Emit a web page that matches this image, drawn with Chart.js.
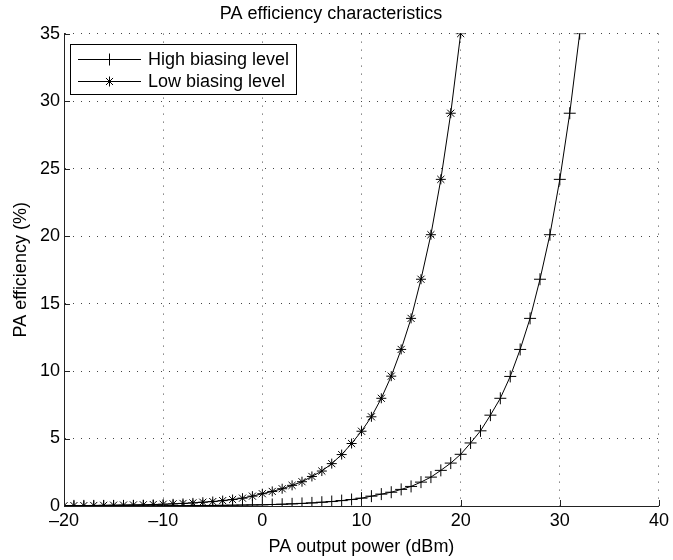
<!DOCTYPE html>
<html>
<head>
<meta charset="utf-8">
<script src="https://cdn.jsdelivr.net/npm/chart.js@4/dist/chart.umd.min.js"></script>
<style>
  html, body { margin: 0; padding: 0; background: #fff; }
  #wrap { width: 673px; height: 560px; }
</style>
</head>
<body>
<div id="wrap"><canvas id="myChart" width="673" height="560"></canvas></div>
<script>
const d = document;
const ctx = d.getElementById('myChart').getContext('2d');

// output power (dBm) per point
const powerLow = [-20,-19,-18,-17,-16,-15,-14,-13,-12,-11,-10,-9,-8,-7,-6,-5,-4,-3,-2,-1,0,
  1,2,3,4,5,6,7,8,9,10,11,12,13,14,15,16,17,18,19,20];
const powerHigh = [-20,-19,-18,-17,-16,-15,-14,-13,-12,-11,-10,-9,-8,-7,-6,-5,-4,-3,-2,-1,0,
  1,2,3,4,5,6,7,8,9,10,11,12,13,14,15,16,17,18,19,20,21,22,23,24,25,26,27,28,29,30,31,32];

// efficiency (%)
const effLow = [0.02,0.03,0.03,0.04,0.05,0.06,0.07,0.08,0.09,0.11,0.13,0.16,0.19,0.23,0.28,0.33,0.40,0.48,0.58,0.73,0.91,
  1.08,1.28,1.53,1.80,2.19,2.59,3.14,3.81,4.63,5.54,6.61,7.98,9.62,11.6,13.9,16.8,20.1,24.2,29.1,35];
const effHigh = [0.01,0.01,0.01,0.01,0.01,0.01,0.01,0.01,0.01,0.01,0.02,0.02,0.02,0.03,0.03,0.04,0.05,0.06,0.07,0.08,0.09,
  0.11,0.13,0.16,0.19,0.23,0.28,0.33,0.40,0.48,0.58,0.73,0.88,1.02,1.23,1.45,1.77,2.14,2.64,3.18,3.83,
  4.67,5.57,6.73,7.98,9.6,11.6,13.9,16.8,20.1,24.2,29.1,35];

const seriesNames = ['High biasing level', 'Low biasing level'];
const xTicks = [-20, -10, 0, 10, 20, 30, 40];
const yTicks = [0, 5, 10, 15, 20, 25, 30, 35];

const FONT = '"Liberation Sans", Arial, Helvetica, sans-serif';
Chart.defaults.font.family = FONT;
Chart.defaults.font.size = 18;
Chart.defaults.color = '#000';

const toPoints = (xs, ys) => xs.map((x, i) => ({ x: x, y: ys[i] }));

// matlab-like inward ticks + boxed legend
const matlabBits = {
  id: 'matlabBits',
  afterDraw(chart) {
    const c = chart.ctx;
    const xs = chart.scales.x, ys = chart.scales.y;
    const area = chart.chartArea;
    c.save();
    c.strokeStyle = '#222';
    c.lineWidth = 1;
    c.beginPath();
    xTicks.forEach(v => {
      const px = Math.round(xs.getPixelForValue(v)) + 0.5;
      c.moveTo(px, area.bottom); c.lineTo(px, area.bottom - 6);
    });
    yTicks.forEach(v => {
      const py = Math.round(ys.getPixelForValue(v)) + 0.5;
      c.moveTo(area.left, py); c.lineTo(area.left + 6, py);
    });
    c.stroke();

    // legend
    const box = { l: 70.5, t: 44.5, r: 296.5, b: 94.5 };
    c.fillStyle = '#fff';
    c.fillRect(box.l, box.t, box.r - box.l, box.b - box.t);
    c.strokeStyle = '#000';
    c.strokeRect(box.l, box.t, box.r - box.l, box.b - box.t);
    const rows = [59, 81];
    chart.data.datasets.forEach((ds, i) => {
      const y = rows[i] + 0.5;
      c.strokeStyle = '#000';
      c.lineWidth = 1;
      c.beginPath();
      c.moveTo(78, y); c.lineTo(141, y);
      c.stroke();
      Chart.helpers.drawPoint(c, {
        pointStyle: ds.pointStyle, radius: ds.pointRadius, rotation: 0, borderWidth: 1
      }, 109.5, y);
      c.fillStyle = '#000';
      c.font = '18px ' + FONT;
      c.textBaseline = 'middle';
      c.textAlign = 'left';
      c.fillText(ds.label, 148, rows[i] + 1);
    });
    c.restore();
  }
};

const myChart = new Chart(ctx, {
  type: 'line',
  data: {
    datasets: [{
      label: seriesNames[0],
      data: toPoints(powerHigh, effHigh),
      borderColor: '#000',
      backgroundColor: '#000',
      borderWidth: 1,
      pointStyle: 'cross',
      pointRadius: 6,
      pointBorderWidth: 1,
      pointBorderColor: '#000',
      tension: 0
    }, {
      label: seriesNames[1],
      data: toPoints(powerLow, effLow),
      borderColor: '#000',
      backgroundColor: '#000',
      borderWidth: 1,
      pointStyle: 'star',
      pointRadius: 5,
      pointBorderWidth: 1,
      pointBorderColor: '#000',
      tension: 0
    }]
  },
  options: {
    responsive: false,
    animation: false,
    layout: { padding: { left: 0, right: 11, top: 0, bottom: 0 } },
    plugins: {
      legend: { display: false },
      tooltip: { enabled: false },
      title: {
        display: true,
        text: 'PA efficiency characteristics',
        font: { size: 18, weight: 'normal' },
        color: '#000',
        padding: { top: 3, bottom: 9 }
      }
    },
    scales: {
      x: {
        type: 'linear',
        min: -20, max: 40,
        afterBuildTicks: s => { s.ticks = xTicks.map(v => ({ value: v })); },
        afterFit: s => { s.height = 54; },
        ticks: {
          padding: 4,
          callback: v => String(v).replace('-', '\u2013'),
          font: { size: 18 },
          color: '#000'
        },
        grid: { color: '#444', lineWidth: 1, drawTicks: false },
        border: { display: true, color: '#222', width: 1, dash: [1, 7] },
        title: {
          display: true,
          text: 'PA output power (dBm)',
          font: { size: 18 },
          color: '#000',
          padding: { top: 0, bottom: 2 }
        }
      },
      y: {
        min: 0, max: 35,
        afterBuildTicks: s => { s.ticks = yTicks.map(v => ({ value: v })); },
        afterFit: s => { s.width = 64; },
        ticks: {
          padding: 4,
          font: { size: 18 },
          color: '#000'
        },
        grid: { color: '#444', lineWidth: 1, drawTicks: false },
        border: { display: true, color: '#222', width: 1, dash: [1, 7] },
        title: {
          display: true,
          text: 'PA efficiency (%)',
          font: { size: 18 },
          color: '#000',
          padding: { top: 10, bottom: 0 }
        }
      }
    }
  },
  plugins: [matlabBits]
});
</script>
</body>
</html>
